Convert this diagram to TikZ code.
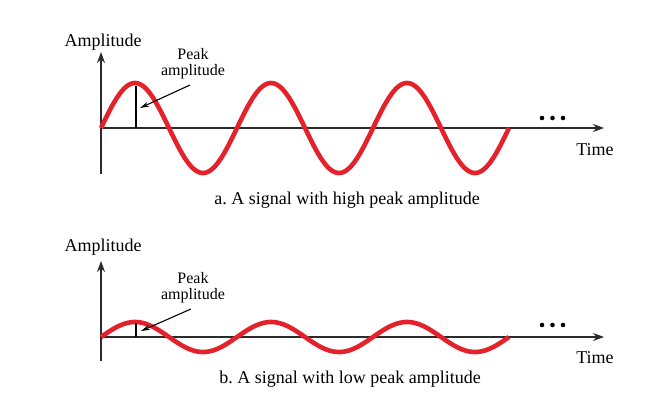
\documentclass[tikz,border=0pt]{standalone}
\usepackage{fontspec}
\setmainfont{Liberation Serif}
\newfontfamily\figserif{Liberation Serif}
\frenchspacing
\usetikzlibrary{arrows.meta}
\definecolor{sigred}{HTML}{E4222B}
\definecolor{axisgray}{HTML}{2B2B2B}
\begin{document}
\begin{tikzpicture}[x=1pt,y=-1pt,
  axisline/.style={draw=axisgray, line width=1.3pt, -{Stealth[length=11pt,width=8pt]}},
  plainaxis/.style={draw=axisgray, line width=1.3pt},
  wave/.style={draw=sigred, line width=4.6pt},
  peakline/.style={draw=black, line width=2pt},
  callout/.style={draw=black, line width=1.1pt, -{Stealth[length=9pt,width=5pt]}},
  biglabel/.style={font=\figserif\fontsize{18}{20}\selectfont, inner sep=0pt, anchor=base},
  smalllabel/.style={font=\figserif\fontsize{16}{17}\selectfont, inner sep=0pt, anchor=base},
  dot/.style={fill=black, circle, inner sep=0pt, minimum size=4.6pt}]
\useasboundingbox (0,0) rectangle (648,402);

% ---------- panel a ----------
\coordinate (aO) at (101,128);
\coordinate (aYtop) at (101,52);
\coordinate (aYbot) at (101,174);
\coordinate (aXend) at (604,128);
\draw[plainaxis] (aO) -- (aYbot);
\draw[axisline] (aO) -- (aYtop);
\draw[axisline] (aO) -- (aXend);
\draw[wave] plot[domain=0:408, samples=241, smooth] ({101+\x},{128-45*sin(\x/136*360)});
\coordinate (aPbase) at (136,128);
\coordinate (aPtop) at (136,86);
\draw[peakline] (aPbase) -- (aPtop);
\node[biglabel] (aAmp) at (103,46) {Amplitude};
\node[smalllabel] (aPeak1) at (193,59) {Peak};
\node[smalllabel] (aPeak2) at (193,75) {amplitude};
\coordinate (aArrS) at (190,85);
\coordinate (aArrE) at (140,108);
\draw[callout] (aArrS) -- (aArrE);
\node[biglabel] (aTime) at (595,155) {Time};
\node[dot] (aD1) at (542,118) {};
\node[dot] (aD2) at (552.5,118) {};
\node[dot] (aD3) at (563,118) {};
\node[biglabel] (aCap) at (347,204) {a. A signal with high peak amplitude};

% ---------- panel b ----------
\coordinate (bO) at (101,337);
\coordinate (bYtop) at (101,261);
\coordinate (bYbot) at (101,361);
\coordinate (bXend) at (604,337);
\draw[plainaxis] (bO) -- (bYbot);
\draw[axisline] (bO) -- (bYtop);
\draw[axisline] (bO) -- (bXend);
\draw[wave] plot[domain=0:408, samples=241, smooth] ({101+\x},{337-15*sin(\x/136*360)});
\coordinate (bPbase) at (136,337);
\coordinate (bPtop) at (136,323);
\draw[peakline] (bPbase) -- (bPtop);
\node[biglabel] (bAmp) at (103,251) {Amplitude};
\node[smalllabel] (bPeak1) at (193,283) {Peak};
\node[smalllabel] (bPeak2) at (193,299) {amplitude};
\coordinate (bArrS) at (191,309);
\coordinate (bArrE) at (141,331);
\draw[callout] (bArrS) -- (bArrE);
\node[biglabel] (bTime) at (595,363) {Time};
\node[dot] (bD1) at (542,325) {};
\node[dot] (bD2) at (552.5,325) {};
\node[dot] (bD3) at (563,325) {};
\node[biglabel] (bCap) at (350,383) {b. A signal with low peak amplitude};
\end{tikzpicture}
\end{document}
